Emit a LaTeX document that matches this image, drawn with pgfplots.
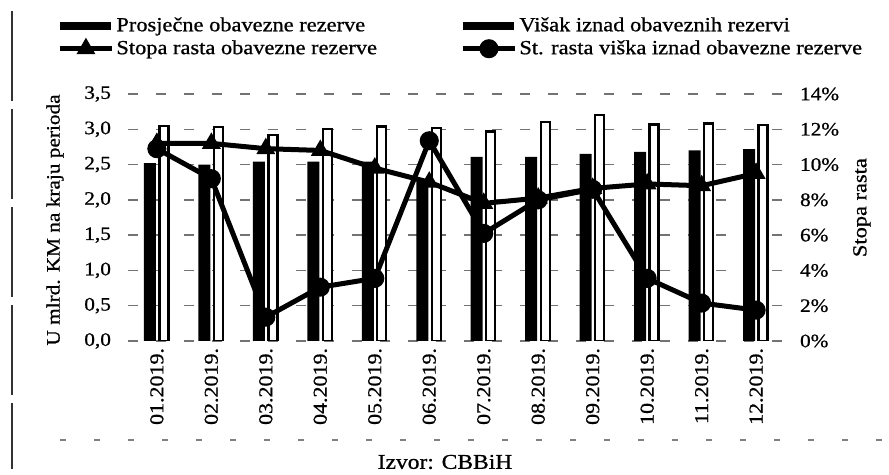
\documentclass[border=0pt]{standalone}
\usepackage{fontspec}
\setmainfont{Liberation Serif}[FakeStretch=1.12,FakeBold=0.8]
\usepackage{pgfplots}
\usepackage{pgfplotstable}
\pgfplotsset{compat=1.18}
\pgfplotstableread{
x pr vi
0 2.52 3.05
1 2.50 3.03
2 2.54 2.92
3 2.54 3.00
4 2.54 3.04
5 2.28 3.02
6 2.61 2.97
7 2.61 3.10
8 2.65 3.20
9 2.68 3.07
10 2.70 3.08
11 2.72 3.06
}\bars
\pgfplotstableread{
x st sv
0 11.2 10.9
1 11.2 9.2
2 10.9 1.35
3 10.8 3.05
4 9.8 3.55
5 9.0 11.35
6 7.8 6.1
7 8.1 8.0
8 8.65 8.6
9 8.9 3.55
10 8.8 2.15
11 9.5 1.75
}\lines
\begin{document}
\begin{tikzpicture}
\useasboundingbox (-64pt,-67pt) rectangle (380.5pt,170.5pt);
\begin{axis}[
  at={(0pt,0pt)}, anchor=south west,
  scale only axis, width=328.5pt, height=123.5pt,
  xmin=-0.53, xmax=11.53, ymin=0, ymax=3.5,
  xtick={0,...,11},
  xticklabels={01.2019.,02.2019.,03.2019.,04.2019.,05.2019.,06.2019.,07.2019.,08.2019.,09.2019.,10.2019.,11.2019.,12.2019.},
  x tick label style={rotate=90, anchor=east, font=\fontsize{9.8}{11}\selectfont},
  ytick={0,0.5,...,3.5},
  y tick label style={/pgf/number format/.cd, fixed, fixed zerofill, precision=1, use comma, /tikz/.cd, font=\fontsize{9.5}{11}\selectfont, xshift=-5pt},
  /pgf/number format/assume math mode=true,
  major tick length=0pt,
  axis line style={draw=none},
  ymajorgrids,
  grid style={dash pattern=on 5pt off 9pt, black!55, line width=0.7pt},
  ylabel={U mlrd. KM na kraju perioda},
  ylabel style={at={(axis description cs:-0.111,0.49)}, anchor=center, font=\fontsize{9.5}{11}\selectfont},
]
\addplot[ybar, bar width=6pt, bar shift=-3.5pt, fill=black, draw=none] table[x=x,y=pr]{\bars};
\addplot[ybar, bar width=4.5pt, bar shift=3.5pt, fill=white, draw=black, line width=1.2pt] table[x=x,y=vi]{\bars};
\end{axis}
\begin{axis}[
  at={(0pt,0pt)}, anchor=south west,
  scale only axis, width=328.5pt, height=123.5pt,
  xmin=-0.53, xmax=11.53, ymin=0, ymax=14,
  axis x line=none,
  axis y line*=right,
  axis line style={draw=none},
  major tick length=0pt,
  ytick={0,2,...,14},
  yticklabel={\pgfmathprintnumber{\tick}\%},
  /pgf/number format/assume math mode=true,
  y tick label style={font=\fontsize{9.5}{11}\selectfont, xshift=4pt},
  ylabel={Stopa rasta},
  ylabel style={at={(axis description cs:1.117,0.54)}, anchor=center, font=\fontsize{10}{12}\selectfont},
  legend columns=2,
  legend cell align=left,
  legend image code/.code={\draw[mark repeat=2,mark phase=2,#1] plot coordinates {(0pt,0pt) (13pt,0pt) (26pt,0pt)};},
  legend style={at={(axis description cs:-0.108,1.32)}, anchor=north west, draw=none, fill=none, inner sep=0pt,
    font=\fontsize{10}{12}\selectfont, nodes={inner sep=1pt}, row sep=1pt,
    /tikz/every even column/.style={column sep=0pt}},
]
\addlegendimage{legend image code/.code={\fill[black] (0pt,-1.75pt) rectangle (25pt,1.75pt);}}
\addlegendentry{\makebox[171pt][l]{Prosječne obavezne rezerve}}
\addlegendimage{legend image code/.code={\fill[black] (0pt,-1.75pt) rectangle (25pt,1.75pt);}}
\addlegendentry{Višak iznad obaveznih rezervi}
\addplot[black, line width=2.5pt, mark=triangle*, mark size=3pt, mark options={solid}] table[x=x,y=st]{\lines};
\addlegendentry{\makebox[171pt][l]{Stopa rasta obavezne rezerve}}
\addplot[black, line width=2.5pt, mark=*, mark size=3.5pt, mark options={solid}] table[x=x,y=sv]{\lines};
\addlegendentry{St. rasta viška iznad obavezne rezerve}
\end{axis}
\draw[black!80, line width=0.6pt, dash pattern=on 45pt off 4pt] (-58pt,165pt) -- (-58pt,-64pt);
\draw[black!50, line width=0.6pt, dash pattern=on 3pt off 14pt] (-34pt,-49.5pt) -- (380pt,-49.5pt);
\node[font=\fontsize{10.5}{12}\selectfont] at (158.5pt,-60.5pt) {Izvor: CBBiH};
\end{tikzpicture}
\end{document}
